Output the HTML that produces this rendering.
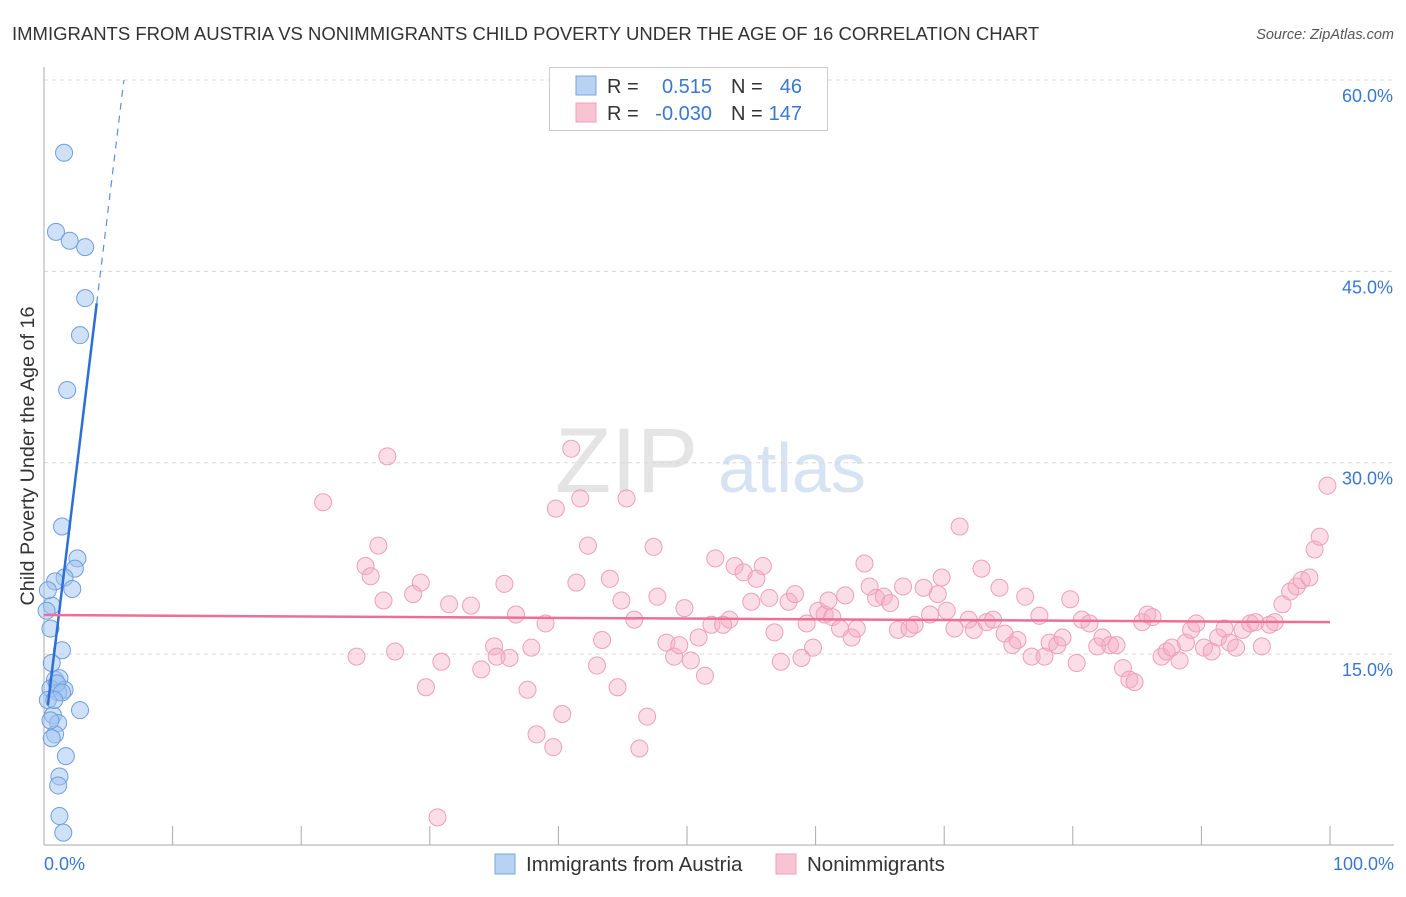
<!DOCTYPE html>
<html><head><meta charset="utf-8"><style>
body{margin:0;background:#fff;font-family:"Liberation Sans",sans-serif;}
svg text{font-family:"Liberation Sans",sans-serif;}
</style></head><body>
<svg id="chart" width="1406" height="892" viewBox="0 0 1406 892" xmlns="http://www.w3.org/2000/svg">
<text x="12" y="40" font-size="18.5" fill="#333">IMMIGRANTS FROM AUSTRIA VS NONIMMIGRANTS CHILD POVERTY UNDER THE AGE OF 16 CORRELATION CHART</text>
<text x="1394" y="39" font-size="14.5" fill="#555" text-anchor="end" font-style="italic">Source: ZipAtlas.com</text>
<g>
<text x="555" y="492" font-size="92" fill="#e4e4e4" font-family="Liberation Serif,serif">ZIP</text>
<text x="718" y="492" font-size="70" fill="#d6e3f3">atlas</text>
</g>
<g id="grid"></g>
<g id="axes"></g>
<g id="pink"></g>
<g id="blue"></g>
<g id="trends"></g>
<text transform="translate(34,456) rotate(-90)" font-size="19.8" fill="#333" text-anchor="middle">Child Poverty Under the Age of 16</text>
<g>
<rect x="549.5" y="67.5" width="278" height="63" fill="#fff" stroke="#ccc"/>
<rect x="576" y="76" width="20" height="19" fill="#b7d2f3" stroke="#7aa6e0"/>
<rect x="576" y="103" width="20" height="19" fill="#f8c3d2" stroke="#eea0b8"/>
<text x="607" y="93" font-size="20" fill="#333">R =</text>
<text x="712" y="93" font-size="20" fill="#3a78d0" text-anchor="end">0.515</text>
<text x="731" y="93" font-size="20" fill="#333">N =</text>
<text x="802" y="93" font-size="20" fill="#3a78d0" text-anchor="end">46</text>
<text x="607" y="120" font-size="20" fill="#333">R =</text>
<text x="712" y="120" font-size="20" fill="#3a78d0" text-anchor="end">-0.030</text>
<text x="731" y="120" font-size="20" fill="#333">N =</text>
<text x="802" y="120" font-size="20" fill="#3a78d0" text-anchor="end">147</text>
</g>
<g>
<rect x="495" y="854" width="20" height="20" fill="#b7d2f3" stroke="#7aa6e0"/>
<text x="526" y="871" font-size="20.5" fill="#333">Immigrants from Austria</text>
<rect x="776" y="854" width="20" height="20" fill="#f8c3d2" stroke="#eea0b8"/>
<text x="807" y="871" font-size="20.5" fill="#333">Nonimmigrants</text>
</g>
</svg>
<script>
const yTicks=[15,30,45,60];
const yTickLabels=["15.0%","30.0%","45.0%","60.0%"];
const xEndLabels=["0.0%","100.0%"];
const blueX=[1.56,0.93,2.0,3.2,3.2,2.8,1.8,1.4,2.6,2.4,1.6,0.86,2.2,0.6,0.5,1.4,0.6,0.86,1.2,0.5,1.6,1.1,0.3,0.7,2.8,1.1,0.86,0.6,1.7,1.2,1.1,1.2,1.5,0.5,1.0,1.4,0.8,0.2,0.3];
const blueY=[54.3,48.1,47.4,46.9,42.9,40.0,35.7,25.0,22.5,21.7,21.0,20.7,20.1,18.8,17.0,15.3,14.3,13.0,13.1,12.3,12.2,12.0,11.4,10.2,10.6,9.6,8.7,8.4,7.0,5.4,4.7,2.3,1.0,9.8,12.7,12.0,11.4,18.4,20.0];
const pinkX=[21.7,26.7,41.0,39.8,41.7,45.3,26.0,42.3,47.4,25.0,25.4,29.3,28.7,26.4,31.5,33.2,35.8,36.7,39.0,41.4,44.0,44.9,45.9,47.7,49.8,24.3,27.3,30.9,29.7,34.0,35.0,35.2,36.2,37.9,37.6,40.3,38.3,39.6,43.4,43.0,44.6,46.9,46.3,30.6,48.4,49.0,49.4,50.3,51.4,50.9,51.9,52.2,53.7,54.4,55.4,55.9,53.3,52.8,55.0,56.8,56.4,57.9,58.4,57.3,58.9,59.3,59.8,60.2,60.7,61.3,61.0,61.9,62.3,62.8,63.2,63.8,64.2,64.7,65.3,65.8,66.4,66.8,67.3,67.7,68.4,68.9,69.5,69.8,70.2,70.8,71.2,71.9,72.3,72.9,73.3,73.8,74.3,74.7,75.3,75.7,76.3,76.8,77.4,77.8,78.2,78.8,79.2,79.8,80.3,80.7,81.3,81.9,82.3,82.9,83.4,83.9,84.4,84.8,85.4,85.8,86.2,86.9,87.3,87.7,88.3,88.8,89.2,89.6,90.2,90.8,91.3,91.8,92.2,92.7,93.2,93.8,94.2,94.7,95.3,95.7,96.3,96.9,97.4,97.8,98.4,98.8,99.2,99.8];
const pinkY=[26.9,30.5,31.1,26.4,27.2,27.2,23.5,23.5,23.4,21.9,21.1,20.6,19.7,19.2,18.9,18.8,20.5,18.1,17.4,20.6,20.9,19.2,17.7,19.5,18.6,14.8,15.2,14.4,12.4,13.8,15.6,14.8,14.7,15.5,12.2,10.3,8.7,7.7,16.1,14.1,12.4,10.1,7.6,2.2,15.9,14.8,15.7,14.5,13.3,16.3,17.3,22.5,21.9,21.4,20.9,21.9,17.7,17.3,19.1,16.7,19.4,19.1,19.7,14.4,14.7,17.4,15.5,18.4,18.1,17.9,19.2,17.0,19.6,16.3,17.0,22.1,20.3,19.4,19.5,19.0,16.9,20.3,17.0,17.3,20.2,18.1,19.7,21.0,18.4,17.0,25.0,17.7,16.9,21.7,17.5,17.7,20.2,16.6,15.7,16.1,19.5,14.8,18.0,14.8,15.9,15.7,16.3,19.3,14.3,17.7,17.4,15.6,16.3,15.7,15.7,13.9,13.0,12.8,17.5,18.1,17.9,14.8,15.2,15.5,14.5,15.9,16.9,17.4,15.5,15.2,16.3,17.0,15.9,15.5,16.9,17.4,17.5,15.6,17.3,17.5,18.9,19.9,20.3,20.8,21.0,23.2,24.2,28.2];
const blueTrend=[8.5,0.515];
const pinkTrend=[18.06,17.5];

const X0=44,X1=1330,Y0=845.4,PERPCT=12.756;
const sx=v=>X0+(X1-X0)*v/100;
const sy=v=>Y0-v*PERPCT;
const NS='http://www.w3.org/2000/svg';
function mk(tag,attrs,parent){const e=document.createElementNS(NS,tag);for(const k in attrs)e.setAttribute(k,attrs[k]);parent.appendChild(e);return e;}
const grid=document.getElementById('grid'),axes=document.getElementById('axes');
yTicks.forEach((t,i)=>{
  const g=mk('line',{x1:44,x2:1394,y1:sy(t),y2:sy(t),stroke:'#d8d8d8','stroke-dasharray':'4,4'},grid);
  
  
  const l=mk('text',{x:1393,y:sy(t)+22,'font-size':18,fill:'#3a78d0','text-anchor':'end'},axes);
  l.textContent=yTickLabels[i];
  
  
});
const ya=mk('line',{x1:44,x2:44,y1:67,y2:845,stroke:'#aaa'},axes);


const xa=mk('line',{x1:44,x2:1394,y1:845,y2:845,stroke:'#aaa'},axes);


for(let i=0;i<=10;i++){const t=mk('line',{x1:sx(i*10),x2:sx(i*10),y1:826,y2:845,stroke:'#aaa'},axes);
  
  }
[[0,'start',44],[100,'end',1394]].forEach((a,i)=>{const t=mk('text',{x:a[2],y:870,'font-size':18,fill:'#3a78d0','text-anchor':a[1]},axes);t.textContent=xEndLabels[i];
  
  });
const pg=document.getElementById('pink');
pinkX.forEach((x,i)=>{const c=mk('circle',{cx:sx(x),cy:sy(pinkY[i]),r:8.5,fill:'rgba(246,170,194,0.4)',stroke:'#eea0b8','stroke-width':1},pg);
  
  });
const bg=document.getElementById('blue');
blueX.forEach((x,i)=>{const c=mk('circle',{cx:sx(x),cy:sy(blueY[i]),r:8.5,fill:'rgba(160,196,240,0.5)',stroke:'#6d9fe0','stroke-width':1},bg);
  
  });
const tg=document.getElementById('trends');
const bAt=x=>blueTrend[0]+x*blueTrend[1]*16.1;
const xSolidEnd=4.1,xDashEnd=(60-blueTrend[0])/(blueTrend[1]*16.1);
const b1=mk('line',{x1:sx(0.3),y1:sy(bAt(0.3)),x2:sx(xSolidEnd),y2:sy(bAt(xSolidEnd)),stroke:'#2e6fd6','stroke-width':2.5},tg);


const b2=mk('line',{x1:sx(xSolidEnd),y1:sy(bAt(xSolidEnd)),x2:sx(xDashEnd),y2:sy(60),stroke:'#5b8fdc','stroke-width':1.2,'stroke-dasharray':'7,6'},tg);


const p1=mk('line',{x1:sx(0),y1:sy(pinkTrend[0]),x2:sx(100),y2:sy(pinkTrend[1]),stroke:'#ec6f95','stroke-width':2.5},tg);


</script>
</body></html>
